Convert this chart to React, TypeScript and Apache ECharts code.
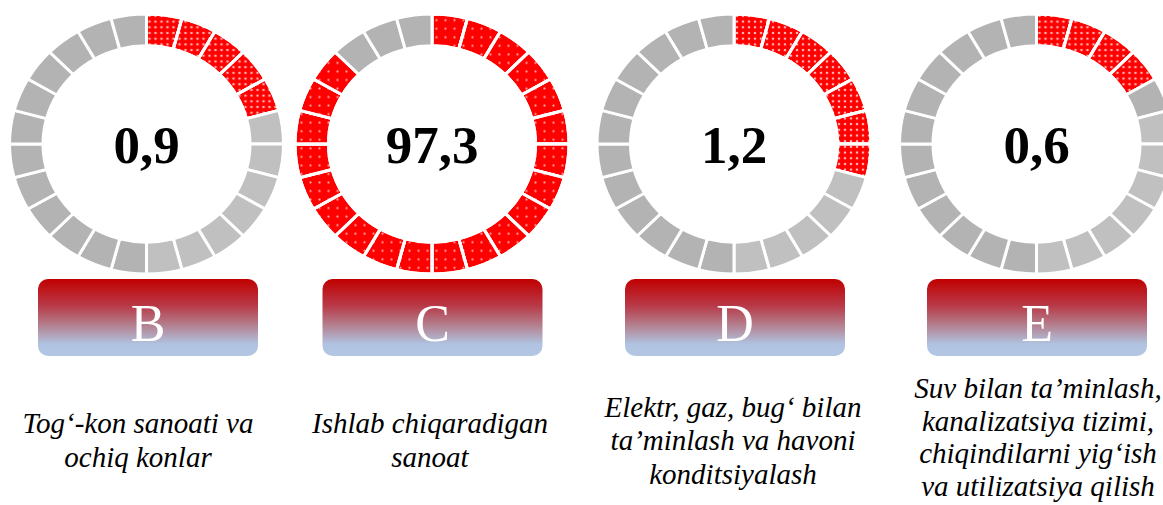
import React, { useEffect, useRef } from 'react';
import * as echarts from 'echarts';

// ---- data ----
const categories = ['B', 'C', 'D', 'E'];
const values = [0.9, 97.3, 1.2, 0.6];
const filledSegments = [5, 21, 7, 4];
const segmentCount = 24;
const descriptions = [
  'Tog‘-kon sanoati va\nochiq konlar',
  'Ishlab chiqaradigan\nsanoat',
  'Elektr, gaz, bug‘ bilan\nta’minlash va havoni\nkonditsiyalash',
  'Suv bilan ta’minlash,\nkanalizatsiya tizimi,\nchiqindilarni yig‘ish\nva utilizatsiya qilish',
];

// ---- layout ----
const ringCenterX = [146.5, 432, 734, 1036.5];
const ringCenterY = 144;
const outerR = 137;
const innerR = 103.5;
const ringScaleY = 0.949;
const boxCenterX = [148, 432.5, 735, 1037];
const textCenterX = [138, 430, 733, 1038];
const textCenterY = [440, 440, 440, 437];

const SERIF = '"Liberation Serif", "Times New Roman", serif';

function dotTile(size: number, step: number, r: number, color: string) {
  let circles = '';
  for (let y = step / 2; y < size; y += step) {
    for (let x = step / 2; x < size; x += step) {
      circles += `<circle cx="${x}" cy="${y}" r="${r * 1.8}" fill="${color}" fill-opacity="0.25"/>`;
      circles += `<circle cx="${x}" cy="${y}" r="${r}" fill="${color}" fill-opacity="0.9"/>`;
    }
  }
  const svg = `<svg xmlns="http://www.w3.org/2000/svg" width="${size}" height="${size}">${circles}</svg>`;
  return {
    image: 'data:image/svg+xml;charset=utf-8,' + encodeURIComponent(svg),
    repeat: 'repeat',
    imageWidth: size,
    imageHeight: size,
  };
}

const densePattern = dotTile(12, 6, 0.9, '#ffffff');
const sparsePattern = dotTile(18, 9, 0.9, '#ffb0b0');

export default function App() {
  const ref = useRef<HTMLDivElement>(null);

  useEffect(() => {
    if (!ref.current) return;
    const chart = echarts.init(ref.current, undefined, { renderer: 'svg' });

    const segData: number[][] = [];
    categories.forEach((_, ri) => {
      for (let s = 0; s < segmentCount; s++) {
        segData.push([ri, s, s < filledSegments[ri] ? 1 : 0]);
      }
    });

    const step = (2 * Math.PI) / segmentCount;

    const graphics: any[] = [];
    categories.forEach((c, i) => {
      graphics.push({
        type: 'rect',
        shape: { x: boxCenterX[i] - 110, y: 279, width: 220, height: 77, r: 10 },
        style: {
          fill: new echarts.graphic.LinearGradient(0, 0, 0, 1, [
            { offset: 0, color: '#c00000' },
            { offset: 0.35, color: '#b83a48' },
            { offset: 0.6, color: '#b4808f' },
            { offset: 0.85, color: '#b0c4e2' },
            { offset: 1, color: '#b3c7e5' },
          ]),
        },
        silent: true,
      });
      graphics.push({
        type: 'text',
        x: boxCenterX[i],
        y: 323,
        style: {
          text: c,
          fill: '#ffffff',
          fontSize: 52,
          fontFamily: SERIF,
          align: 'center',
          verticalAlign: 'middle',
          textAlign: 'center',
          textVerticalAlign: 'middle',
        },
        silent: true,
      });
      graphics.push({
        type: 'text',
        x: ringCenterX[i],
        y: 145,
        style: {
          text: String(values[i]).replace('.', ','),
          fill: '#000000',
          fontSize: 53,
          fontWeight: 'bold',
          fontFamily: SERIF,
          align: 'center',
          verticalAlign: 'middle',
          textAlign: 'center',
          textVerticalAlign: 'middle',
        },
        silent: true,
      });
      graphics.push({
        type: 'text',
        x: textCenterX[i],
        y: textCenterY[i],
        style: {
          text: descriptions[i],
          fill: '#000000',
          fontSize: 29,
          fontStyle: 'italic',
          fontFamily: SERIF,
          lineHeight: i === 3 ? 32.7 : 33.5,
          align: 'center',
          verticalAlign: 'middle',
          textAlign: 'center',
          textVerticalAlign: 'middle',
        },
        silent: true,
      });
    });

    chart.setOption({
      animation: false,
      backgroundColor: '#ffffff',
      series: [
        {
          type: 'custom',
          coordinateSystem: 'none',
          silent: true,
          data: segData,
          renderItem: (params: any, api: any) => {
            const ri = api.value(0);
            const s = api.value(1);
            const filled = api.value(2) === 1;
            const start = -Math.PI / 2 + s * step;
            const shape = {
              cx: 0,
              cy: 0,
              r0: innerR,
              r: outerR,
              startAngle: start,
              endAngle: start + step,
              clockwise: true,
            };
            const base = filled ? '#ff0000' : s >= 5 && s < 12 ? '#c0c0c0' : '#b3b3b3';
            const children: any[] = [
              { type: 'sector', shape, style: { fill: base, stroke: '#ffffff', lineWidth: 3 } },
            ];
            if (filled) {
              children.push({
                type: 'sector',
                shape,
                style: {
                  fill: ri === 1 ? sparsePattern : densePattern,
                  stroke: '#ffffff',
                  lineWidth: 3,
                },
              });
            }
            return {
              type: 'group',
              x: ringCenterX[ri],
              y: ringCenterY,
              scaleY: ringScaleY,
              children,
            };
          },
        },
      ],
      graphic: graphics,
    });

    return () => chart.dispose();
  }, []);

  return (
    <div
      ref={ref}
      style={{ position: 'fixed', left: 0, top: 0, width: 1163, height: 505 }}
    />
  );
}
